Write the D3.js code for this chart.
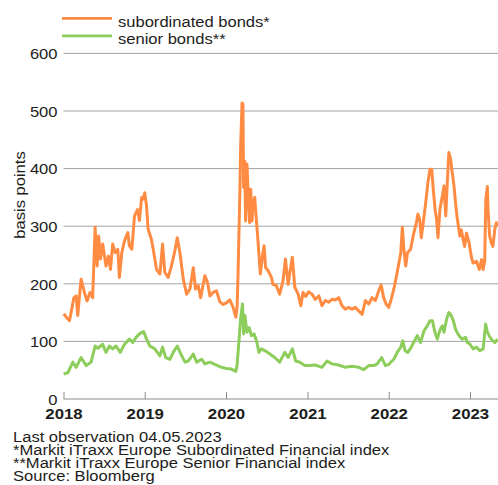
<!DOCTYPE html>
<html>
<head>
<meta charset="utf-8">
<script src="https://cdn.jsdelivr.net/npm/d3@7"></script>
<style>
  html, body { margin: 0; padding: 0; background: #fff; }
  svg { display: block; font-family: "Liberation Sans", Arial, Helvetica, sans-serif; }
</style>
</head>
<body>
<svg id="chart" width="498" height="485"></svg>
<script>
// iTraxx Europe financial spreads, basis points
const subordinated = [
  ["2018-01-02",148],["2018-01-12",143],["2018-01-28",136],["2018-02-04",150],["2018-02-16",175],
  ["2018-02-27",179],["2018-03-06",145],["2018-03-21",208],["2018-04-05",185],["2018-04-17",170],
  ["2018-04-30",185],["2018-05-12",176],["2018-05-23",298],["2018-06-01",231],["2018-06-08",283],
  ["2018-06-16",243],["2018-06-26",269],["2018-07-11",231],["2018-07-22",248],["2018-07-31",225],
  ["2018-08-10",269],["2018-08-21",254],["2018-09-02",260],["2018-09-09",211],["2018-09-20",254],
  ["2018-10-02",275],["2018-10-17",289],["2018-10-24",266],["2018-11-04",260],["2018-11-16",318],
  ["2018-11-30",329],["2018-12-08",310],["2018-12-18",350],["2018-12-25",347],["2019-01-01",358],
  ["2019-01-09",335],["2019-01-16",295],["2019-01-31",277],["2019-02-08",260],["2019-02-23",225],
  ["2019-03-10",217],["2019-03-22",269],["2019-04-01",220],["2019-04-16",211],["2019-05-01",231],
  ["2019-05-16",257],["2019-05-27",280],["2019-06-08",254],["2019-06-23",208],["2019-07-08",182],
  ["2019-07-23",191],["2019-08-07",228],["2019-08-17",191],["2019-08-29",197],["2019-09-09",176],
  ["2019-09-28",214],["2019-10-10",202],["2019-10-21",179],["2019-11-04",185],["2019-11-19",188],
  ["2019-12-04",169],["2019-12-19",164],["2020-01-03",167],["2020-01-18",172],["2020-02-02",159],
  ["2020-02-14",142],["2020-02-20",160],["2020-02-24",217],["2020-03-03",355],["2020-03-07",442],
  ["2020-03-13",514],["2020-03-17",512],["2020-03-20",367],["2020-03-25",413],["2020-03-29",309],
  ["2020-04-04",408],["2020-04-10",355],["2020-04-16",306],["2020-04-21",364],["2020-04-27",309],
  ["2020-05-01",338],["2020-05-09",350],["2020-05-13",327],["2020-05-19",298],["2020-05-28",251],
  ["2020-06-03",217],["2020-06-12",246],["2020-06-20",266],["2020-06-27",228],["2020-07-08",223],
  ["2020-07-23",211],["2020-07-30",199],["2020-08-14",197],["2020-08-29",182],["2020-09-13",205],
  ["2020-09-24",243],["2020-10-06",199],["2020-10-16",225],["2020-10-25",246],["2020-11-05",194],
  ["2020-11-20",182],["2020-12-02",162],["2020-12-12",185],["2020-12-24",178],["2021-01-06",186],
  ["2021-01-21",182],["2021-02-05",173],["2021-02-21",179],["2021-03-07",162],["2021-03-22",171],
  ["2021-04-06",168],["2021-04-21",173],["2021-05-06",172],["2021-05-21",176],["2021-06-05",162],
  ["2021-06-20",156],["2021-07-05",159],["2021-07-20",156],["2021-08-04",159],["2021-08-19",153],
  ["2021-09-03",147],["2021-09-18",171],["2021-10-03",165],["2021-10-18",176],["2021-11-02",171],
  ["2021-11-17",188],["2021-11-28",198],["2021-12-09",176],["2021-12-20",165],["2022-01-01",159],
  ["2022-01-12",173],["2022-01-24",191],["2022-02-05",214],["2022-02-16",237],["2022-02-24",254],
  ["2022-03-03",298],["2022-03-10",260],["2022-03-18",231],["2022-03-26",254],["2022-04-09",260],
  ["2022-04-24",289],["2022-05-05",306],["2022-05-12",321],["2022-05-20",312],["2022-05-27",280],
  ["2022-06-05",306],["2022-06-16",341],["2022-06-26",376],["2022-07-05",399],["2022-07-13",399],
  ["2022-07-20",364],["2022-07-28",329],["2022-08-04",312],["2022-08-10",280],["2022-08-19",330],
  ["2022-08-30",353],["2022-09-06",370],["2022-09-14",318],["2022-09-21",376],["2022-09-28",428],
  ["2022-10-06",416],["2022-10-13",393],["2022-10-21",370],["2022-10-28",341],["2022-11-04",315],
  ["2022-11-10",300],["2022-11-16",283],["2022-11-23",294],["2022-12-01",277],["2022-12-08",265],
  ["2022-12-16",288],["2022-12-28",271],["2023-01-08",245],["2023-01-15",236],["2023-01-30",239],
  ["2023-02-12",225],["2023-02-22",242],["2023-03-01",225],["2023-03-08",240],["2023-03-13",346],
  ["2023-03-20",369],["2023-03-23",329],["2023-03-30",283],["2023-04-07",271],["2023-04-14",265],
  ["2023-04-22",294],["2023-04-29",306],["2023-05-04",300]
];

const senior = [
  ["2018-01-02",43],["2018-01-21",46],["2018-02-12",64],["2018-02-27",55],["2018-03-21",72],
  ["2018-04-13",58],["2018-05-05",64],["2018-05-23",92],["2018-06-04",88],["2018-06-26",95],
  ["2018-07-11",81],["2018-07-26",92],["2018-08-10",87],["2018-08-25",92],["2018-09-13",81],
  ["2018-10-02",95],["2018-10-24",104],["2018-11-08",98],["2018-11-23",107],["2018-12-08",113],
  ["2018-12-27",117],["2019-01-09",104],["2019-01-24",92],["2019-02-15",87],["2019-03-10",75],
  ["2019-03-22",90],["2019-04-05",72],["2019-04-24",69],["2019-05-09",81],["2019-05-27",92],
  ["2019-06-16",75],["2019-07-01",64],["2019-07-16",66],["2019-08-07",78],["2019-08-22",64],
  ["2019-09-14",69],["2019-09-28",61],["2019-10-21",64],["2019-11-19",59],["2019-12-12",55],
  ["2020-01-03",53],["2020-01-25",52],["2020-02-14",48],["2020-02-20",60],["2020-03-01",110],
  ["2020-03-07",142],["2020-03-15",165],["2020-03-20",113],["2020-03-26",145],["2020-04-04",116],
  ["2020-04-14",124],["2020-04-24",110],["2020-05-06",113],["2020-05-17",101],["2020-05-28",81],
  ["2020-06-08",87],["2020-06-23",84],["2020-07-16",78],["2020-08-07",72],["2020-08-29",64],
  ["2020-09-21",81],["2020-10-06",72],["2020-10-25",87],["2020-11-09",66],["2020-11-27",64],
  ["2020-12-20",58],["2021-01-06",58],["2021-02-05",59],["2021-03-07",55],["2021-03-30",66],
  ["2021-04-21",61],["2021-05-21",59],["2021-06-20",55],["2021-07-20",57],["2021-08-19",55],
  ["2021-09-11",51],["2021-10-03",58],["2021-10-26",58],["2021-11-10",61],["2021-11-30",72],
  ["2021-12-17",58],["2022-01-01",60],["2022-01-10",64],["2022-01-24",69],["2022-02-08",81],
  ["2022-02-24",90],["2022-03-05",101],["2022-03-15",84],["2022-03-28",81],["2022-04-12",90],
  ["2022-04-27",101],["2022-05-09",110],["2022-05-24",98],["2022-06-08",118],["2022-06-23",127],
  ["2022-07-05",136],["2022-07-16",136],["2022-07-26",118],["2022-08-07",104],["2022-08-19",120],
  ["2022-08-30",127],["2022-09-06",116],["2022-09-18",139],["2022-09-28",150],["2022-10-06",147],
  ["2022-10-18",136],["2022-10-28",121],["2022-11-12",110],["2022-11-27",104],["2022-12-12",107],
  ["2022-12-20",98],["2023-01-01",95],["2023-01-15",87],["2023-01-30",90],["2023-02-14",84],
  ["2023-03-01",87],["2023-03-12",130],["2023-03-20",116],["2023-04-01",107],["2023-04-13",101],
  ["2023-04-23",98],["2023-05-04",104]
];

const yTicks = [0, 100, 200, 300, 400, 500, 600];
const xTickYears = [2018, 2019, 2020, 2021, 2022, 2023];
const seriesNames = ["subordinated bonds*", "senior bonds**"];
const seriesColors = ["#ff8c42", "#8dcd5b"];
const notes = [
  "Last observation 04.05.2023",
  "*Markit iTraxx Europe Subordinated Financial index",
  "**Markit iTraxx Europe Senior Financial index",
  "Source: Bloomberg"
];

const parse = d3.timeParse("%Y-%m-%d");
const svg = d3.select("#chart");
const W = 498, H = 485;
const plotLeft = 63.5, plotRight = 497.4, plotTop = 53.4, plotBottom = 399;
const SX = 1.15; // horizontal text stretch
const ink = "#1d1d1b";

const x = d3.scaleTime()
  .domain([parse("2018-01-01"), parse("2023-05-04")])
  .range([plotLeft, plotRight]);
const y = d3.scaleLinear().domain([0, 600]).range([plotBottom, plotTop]);

// horizontal gridlines
svg.append("g").selectAll("line")
  .data(yTicks.filter(d => d > 0))
  .join("line")
  .attr("x1", plotLeft).attr("x2", W)
  .attr("y1", d => y(d)).attr("y2", d => y(d))
  .attr("stroke", "#a3a3a3").attr("stroke-width", 1);

// y axis labels
const yAxis = d3.axisLeft(y).tickValues(yTicks).tickSize(0).tickPadding(6);
const gy = svg.append("g").attr("transform", `translate(${plotLeft},0)`).call(yAxis);
gy.select(".domain").remove();
gy.selectAll("text")
  .attr("font-size", 14.4).attr("fill", ink).attr("dy", "0.37em")
  .attr("font-family", "Liberation Sans, Arial, sans-serif")
  .attr("transform", `scale(${SX},1)`)
  .attr("x", -6 / SX);

// x axis with upward ticks
const xAxis = d3.axisBottom(x)
  .tickValues(xTickYears.map(yr => new Date(yr, 0, 1)))
  .tickFormat(d3.timeFormat("%Y"))
  .tickSizeInner(-7).tickSizeOuter(0).tickPadding(10);
const gx = svg.append("g").attr("transform", `translate(0,${plotBottom})`).call(xAxis);
gx.select(".domain").attr("d", `M${plotLeft},0H${W}`).attr("stroke", "#8c8c8c");
gx.selectAll(".tick line").attr("stroke", "#8c8c8c");
gx.selectAll("text")
  .attr("font-size", 14.6).attr("font-weight", "bold").attr("fill", ink)
  .attr("font-family", "Liberation Sans, Arial, sans-serif")
  .attr("transform", `scale(${SX},1)`)
  .attr("y", 10);

// series lines
const line = d3.line()
  .x(d => x(parse(d[0])))
  .y(d => y(d[1]));

[subordinated, senior].forEach((data, i) => {
  svg.append("path")
    .datum(data)
    .attr("fill", "none")
    .attr("stroke", seriesColors[i])
    .attr("stroke-width", 3)
    .attr("stroke-linejoin", "round")
    .attr("d", line);
});

// stretched text helper
function label(x0, y0, str, opts = {}) {
  const g = svg.append("g").attr("transform", `translate(${x0},${y0}) ${opts.rotate ? "rotate(-90)" : ""} scale(${SX},1)`);
  g.append("text")
    .attr("font-size", opts.size || 14.4)
    .attr("font-weight", opts.weight || "normal")
    .attr("text-anchor", opts.anchor || "start")
    .attr("fill", ink)
    .text(str);
}

// legend
const legend = svg.append("g");
seriesNames.forEach((name, i) => {
  const ly = 18.3 + i * 17.6;
  legend.append("line")
    .attr("x1", 62).attr("x2", 112)
    .attr("y1", ly).attr("y2", ly)
    .attr("stroke", seriesColors[i]).attr("stroke-width", 2.8);
  label(118, ly + 8.2, name);
});

// y axis title
label(25, 195, "basis points", { rotate: true, anchor: "middle" });

// footnotes: tightly leaded block
notes.forEach((t, i) => label(13, 441.5 + i * 13.3, t, { size: 14.4 }));
</script>
</body>
</html>
